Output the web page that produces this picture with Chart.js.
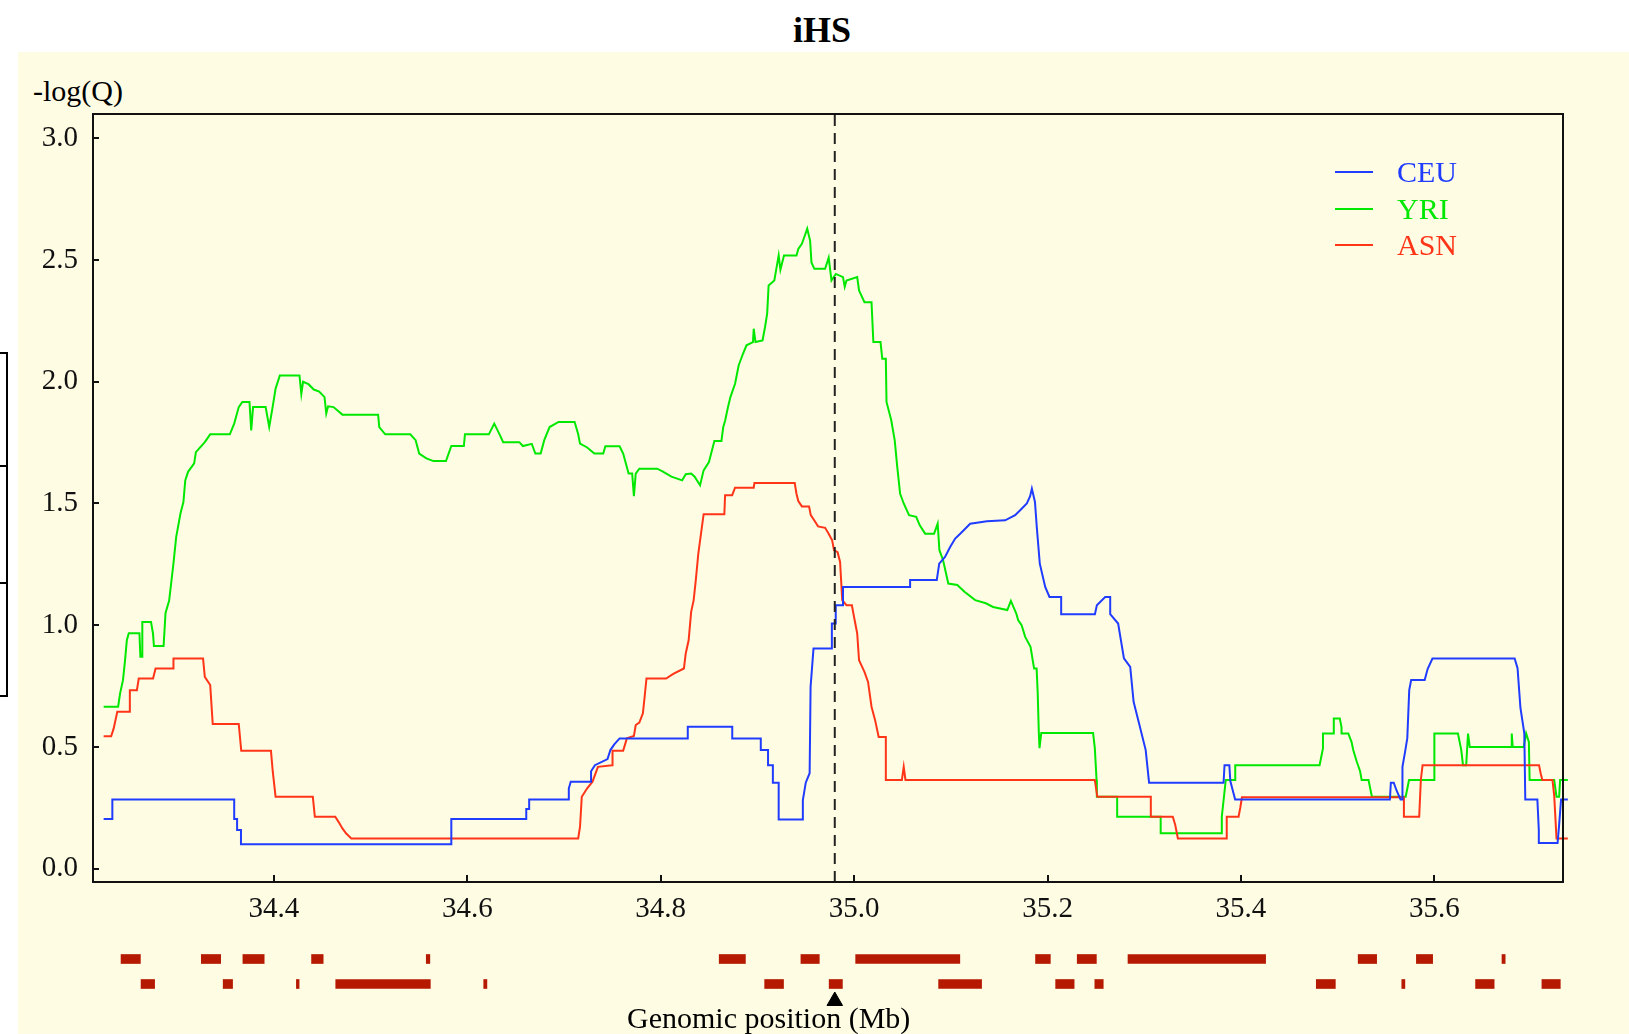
<!DOCTYPE html>
<html>
<head>
<meta charset="utf-8">
<title>iHS</title>
<script src="https://cdn.jsdelivr.net/npm/chart.js@4.4.1/dist/chart.umd.min.js"></script>
<style>
  body { margin: 0; width: 1629px; height: 1034px; position: relative; overflow: hidden; background: #fff;
         font-family: 'Liberation Serif', 'DejaVu Serif', serif; }
  #panel { position: absolute; left: 18px; top: 52px; width: 1611px; height: 982px; background: #fffce4; }
  #stub { position: absolute; left: -12px; top: 352px; width: 16px; height: 341px; border: 2px solid #000; }
  .stubTick { position: absolute; left: 0; width: 6px; height: 2px; background: #000; }
  #title { position: absolute; left: 0; width: 1644px; top: 10px; line-height: 40px; text-align: center;
           font-weight: bold; font-size: 36px; color: #000; }
  #ylabel { position: absolute; left: 33px; top: 74px; font-size: 30px; line-height: 34px; color: #000; }
  #xlabel { position: absolute; left: 627px; top: 1001px; font-size: 30px; line-height: 34px; color: #000; }
  #legend { position: absolute; left: 1335px; top: 154px; font-size: 30px; }
  .legRow { height: 36.5px; display: flex; align-items: center; }
  .legLine { width: 38px; height: 2px; margin-right: 24px; }
  canvas { position: absolute; left: 0; }
</style>
</head>
<body>
<div id="panel"></div>
<div id="stub"></div>
<div class="stubTick" style="top:465px"></div>
<div class="stubTick" style="top:582px"></div>
<div id="title">iHS</div>
<div id="ylabel">-log(Q)</div>
<canvas id="plot" width="1629" height="935" style="top:0"></canvas>
<canvas id="genes" width="1629" height="99" style="top:935px"></canvas>
<div id="xlabel">Genomic position (Mb)</div>
<div id="legend"></div>

<script>
// iHS scores, -log(Q), along the genomic window (Mb)
const ceu = [
  [34.224,0.204],[34.233,0.204],[34.233,0.284],[34.359,0.284],[34.359,0.204],[34.362,0.204],[34.362,0.159],
  [34.366,0.159],[34.366,0.100],[34.5835,0.100],[34.5835,0.204],[34.661,0.204],[34.661,0.245],[34.664,0.245],
  [34.664,0.284],[34.705,0.284],[34.705,0.330],[34.707,0.357],[34.728,0.357],[34.728,0.400],[34.732,0.425],
  [34.745,0.450],[34.748,0.487],[34.752,0.510],[34.7575,0.535],[34.828,0.535],[34.828,0.583],[34.874,0.583],
  [34.874,0.535],[34.9035,0.535],[34.9035,0.487],[34.911,0.487],[34.911,0.425],[34.916,0.425],[34.916,0.353],
  [34.922,0.353],[34.922,0.202],[34.947,0.202],[34.947,0.282],[34.950,0.353],[34.954,0.392],[34.955,0.747],
  [34.958,0.904],[34.977,0.904],[34.977,1.007],[34.981,1.007],[34.981,1.082],[34.9885,1.082],[34.9885,1.157],
  [35.0579,1.157],[35.0579,1.186],[35.0855,1.186],[35.088,1.253],[35.094,1.280],[35.0993,1.321],[35.1045,1.356],
  [35.1097,1.376],[35.120,1.417],[35.1373,1.427],[35.1562,1.431],[35.1665,1.452],[35.1717,1.472],[35.1786,1.500],
  [35.182,1.530],[35.1838,1.561],[35.187,1.506],[35.189,1.397],[35.192,1.253],[35.1976,1.157],[35.202,1.116],
  [35.2141,1.116],[35.2141,1.045],[35.249,1.045],[35.251,1.082],[35.2596,1.116],[35.2648,1.116],[35.2648,1.045],
  [35.273,1.007],[35.279,0.864],[35.2855,0.829],[35.289,0.685],[35.2946,0.597],[35.3015,0.487],[35.305,0.353],
  [35.382,0.353],[35.383,0.425],[35.388,0.425],[35.389,0.360],[35.394,0.284],[35.554,0.284],[35.555,0.353],
  [35.558,0.353],[35.561,0.320],[35.565,0.284],[35.567,0.284],[35.567,0.418],[35.570,0.487],[35.572,0.536],
  [35.574,0.733],[35.576,0.775],[35.590,0.775],[35.593,0.820],[35.598,0.863],[35.683,0.863],[35.686,0.823],
  [35.689,0.660],[35.693,0.556],[35.694,0.284],[35.7065,0.284],[35.708,0.158],[35.708,0.105],[35.7274,0.105],
  [35.729,0.180],[35.731,0.284],[35.738,0.284]
];

const yri = [
  [34.224,0.665],[34.239,0.665],[34.241,0.720],[34.244,0.774],[34.246,0.850],[34.248,0.938],[34.250,0.967],
  [34.261,0.967],[34.262,0.870],[34.264,0.870],[34.264,1.013],[34.273,1.013],[34.275,0.967],[34.276,0.914],
  [34.286,0.914],[34.288,1.050],[34.2917,1.100],[34.2962,1.254],[34.299,1.362],[34.3035,1.460],[34.3065,1.506],
  [34.3084,1.595],[34.3113,1.630],[34.3176,1.665],[34.3194,1.711],[34.3286,1.752],[34.3342,1.784],[34.3545,1.784],
  [34.359,1.828],[34.3637,1.896],[34.3674,1.917],[34.3748,1.917],[34.3766,1.800],[34.3785,1.896],[34.3915,1.896],
  [34.3952,1.814],[34.3989,1.900],[34.4018,1.972],[34.4062,2.026],[34.4265,2.026],[34.4284,1.950],[34.4302,2.000],
  [34.4358,1.990],[34.4413,1.968],[34.4469,1.960],[34.4524,1.937],[34.4542,1.870],[34.4561,1.899],[34.4617,1.896],
  [34.4709,1.865],[34.5078,1.865],[34.509,1.814],[34.5152,1.784],[34.5411,1.784],[34.5466,1.760],[34.5503,1.705],
  [34.5577,1.685],[34.5651,1.674],[34.578,1.674],[34.5835,1.736],[34.5965,1.736],[34.5976,1.784],[34.6223,1.784],
  [34.6279,1.828],[34.6334,1.784],[34.6371,1.752],[34.6538,1.752],[34.6575,1.736],[34.6667,1.745],[34.6704,1.705],
  [34.6759,1.705],[34.6796,1.760],[34.6851,1.814],[34.6944,1.835],[34.711,1.835],[34.7147,1.784],[34.7166,1.746],
  [34.724,1.730],[34.7314,1.705],[34.7406,1.705],[34.7428,1.735],[34.7575,1.735],[34.7612,1.705],[34.765,1.650],
  [34.7668,1.623],[34.7705,1.623],[34.7723,1.530],[34.7742,1.623],[34.7779,1.643],[34.7963,1.643],[34.8019,1.632],
  [34.8111,1.610],[34.8222,1.595],[34.8259,1.620],[34.8315,1.623],[34.8351,1.610],[34.8407,1.575],[34.8444,1.636],
  [34.8499,1.670],[34.8555,1.757],[34.8628,1.757],[34.8647,1.814],[34.8666,1.840],[34.8696,1.896],[34.8721,1.937],
  [34.8769,1.992],[34.8806,2.067],[34.8851,2.115],[34.8887,2.150],[34.8954,2.163],[34.8962,2.218],[34.898,2.163],
  [34.9053,2.170],[34.9079,2.225],[34.9101,2.280],[34.9116,2.396],[34.9175,2.416],[34.922,2.519],[34.9238,2.460],
  [34.9275,2.519],[34.9404,2.519],[34.9423,2.546],[34.946,2.567],[34.9497,2.608],[34.9515,2.629],[34.9545,2.580],
  [34.9559,2.490],[34.9589,2.464],[34.970,2.464],[34.9737,2.510],[34.9766,2.416],[34.9811,2.443],[34.9885,2.430],
  [34.9903,2.390],[34.9921,2.416],[35.0032,2.430],[35.0051,2.375],[35.0107,2.327],[35.018,2.327],[35.0199,2.163],
  [35.0273,2.163],[35.0291,2.095],[35.0328,2.095],[35.0335,1.917],[35.0384,1.842],[35.042,1.759],[35.0446,1.650],
  [35.0476,1.540],[35.0513,1.500],[35.0568,1.452],[35.0642,1.445],[35.0679,1.410],[35.0734,1.376],[35.0827,1.376],
  [35.0864,1.417],[35.0882,1.308],[35.092,1.267],[35.0974,1.171],[35.1067,1.165],[35.1141,1.137],[35.1252,1.103],
  [35.1362,1.090],[35.1437,1.075],[35.1584,1.062],[35.1621,1.100],[35.1677,1.048],[35.1696,1.021],[35.1732,1.000],
  [35.1769,0.952],[35.1824,0.911],[35.1861,0.822],[35.1887,0.822],[35.1898,0.726],[35.191,0.557],[35.1917,0.495],
  [35.1935,0.557],[35.2471,0.557],[35.2489,0.495],[35.2507,0.364],[35.251,0.295],[35.272,0.295],[35.272,0.213],
  [35.317,0.213],[35.317,0.145],[35.3802,0.145],[35.3802,0.213],[35.3843,0.364],[35.3941,0.364],[35.3941,0.425],
  [35.4813,0.425],[35.4848,0.494],[35.4848,0.555],[35.496,0.555],[35.496,0.617],[35.5022,0.617],[35.504,0.580],
  [35.504,0.555],[35.511,0.555],[35.5144,0.520],[35.5161,0.487],[35.5197,0.440],[35.5232,0.400],[35.5248,0.364],
  [35.5319,0.364],[35.5354,0.295],[35.5703,0.295],[35.5738,0.364],[35.600,0.364],[35.600,0.555],[35.6244,0.555],
  [35.6278,0.487],[35.6296,0.425],[35.6329,0.425],[35.6348,0.555],[35.6366,0.500],[35.6795,0.500],[35.680,0.555],
  [35.681,0.500],[35.6924,0.500],[35.6949,0.555],[35.6977,0.520],[35.6985,0.364],[35.7239,0.364],[35.7263,0.295],
  [35.729,0.295],[35.730,0.364],[35.738,0.364]
];

const asn = [
  [34.224,0.544],[34.2318,0.544],[34.2344,0.576],[34.2381,0.644],[34.2504,0.644],[34.2511,0.733],[34.2584,0.733],
  [34.2603,0.781],[34.2751,0.781],[34.2777,0.822],[34.2962,0.822],[34.2962,0.863],[34.3268,0.863],[34.3286,0.788],
  [34.3342,0.754],[34.3368,0.594],[34.3637,0.594],[34.3663,0.484],[34.397,0.484],[34.3989,0.398],[34.4018,0.295],
  [34.4403,0.295],[34.4424,0.213],[34.4635,0.213],[34.4672,0.190],[34.4709,0.165],[34.4746,0.145],[34.4801,0.124],
  [34.7147,0.124],[34.7166,0.172],[34.7184,0.295],[34.724,0.330],[34.7295,0.357],[34.7351,0.418],[34.7498,0.425],
  [34.7502,0.484],[34.7612,0.484],[34.765,0.535],[34.7723,0.545],[34.7742,0.590],[34.7779,0.600],[34.7816,0.638],
  [34.7834,0.706],[34.7853,0.781],[34.8056,0.781],[34.813,0.800],[34.824,0.822],[34.8259,0.884],[34.8289,0.938],
  [34.8315,1.055],[34.8341,1.103],[34.8363,1.185],[34.8389,1.294],[34.8444,1.456],[34.8658,1.456],[34.8666,1.534],
  [34.8739,1.534],[34.8769,1.565],[34.8962,1.565],[34.8969,1.584],[34.9386,1.584],[34.9404,1.540],[34.9423,1.510],
  [34.946,1.488],[34.9534,1.488],[34.9552,1.452],[34.9589,1.430],[34.9627,1.406],[34.970,1.400],[34.9737,1.376],
  [34.9773,1.349],[34.9792,1.308],[34.9829,1.300],[34.9855,1.260],[34.9877,1.103],[34.9921,1.082],[34.9977,1.082],
  [34.9996,1.041],[35.0032,0.966],[35.0051,0.856],[35.0107,0.808],[35.0144,0.767],[35.018,0.665],[35.0217,0.610],
  [35.0254,0.541],[35.0328,0.541],[35.0328,0.364],[35.0494,0.364],[35.0513,0.418],[35.0531,0.364],[35.2489,0.364],
  [35.2515,0.295],[35.3068,0.295],[35.3068,0.213],[35.3295,0.213],[35.332,0.180],[35.3348,0.124],[35.3853,0.124],
  [35.3853,0.213],[35.3975,0.213],[35.3993,0.250],[35.401,0.293],[35.5685,0.293],[35.5685,0.213],[35.5843,0.213],
  [35.586,0.364],[35.5878,0.425],[35.7082,0.425],[35.710,0.390],[35.7117,0.364],[35.7221,0.364],[35.7239,0.300],
  [35.7263,0.124],[35.738,0.124]
];

const seriesNames = ['CEU', 'YRI', 'ASN'];
const seriesColors = ['#1f3cff', '#00e800', '#ff3518'];

// gene spans (Mb) on the two annotation rows
const geneRow1 = [
  [34.242,34.262],[34.325,34.345],[34.368,34.390],[34.439,34.451],[34.5576,34.5613],[34.8605,34.8876],
  [34.945,34.964],[35.0016,35.1093],[35.1876,35.2029],[35.2307,35.2505],[35.2832,35.4255],[35.5212,35.5403],
  [35.5814,35.5982],[35.6699,35.6732]
];
const geneRow2 = [
  [34.2627,34.2767],[34.3476,34.3573],[34.4233,34.4261],[34.464,34.5618],[34.617,34.6203],[34.9075,34.927],
  [34.9742,34.9879],[35.0874,35.1318],[35.2084,35.2275],[35.2489,35.2576],[35.4779,35.4976],[35.5663,35.5695],
  [35.6426,35.6618],[35.7112,35.7302]
];

const focusPos = 34.98;
const xTickValues = [34.4, 34.6, 34.8, 35.0, 35.2, 35.4, 35.6];
const yTickValues = [0, 0.5, 1.0, 1.5, 2.0, 2.5, 3.0];
const xMin = 34.213, xMax = 35.733;
const yMin = -0.055, yMax = 3.1;

const serif = "'Liberation Serif', 'DejaVu Serif', serif";
const toPoints = arr => arr.map(([x, y]) => ({ x, y }));

// box around the plot area plus inward tick marks
const framePlugin = {
  id: 'frame',
  afterDraw(chart) {
    const { ctx, chartArea: a, scales: { x, y } } = chart;
    ctx.save();
    ctx.strokeStyle = '#111';
    ctx.lineWidth = 2;
    ctx.strokeRect(a.left, a.top, a.right - a.left, a.bottom - a.top);
    ctx.beginPath();
    x.ticks.forEach(t => {
      const px = Math.round(x.getPixelForValue(t.value));
      ctx.moveTo(px, a.bottom);
      ctx.lineTo(px, a.bottom - 7);
    });
    y.ticks.forEach(t => {
      const py = Math.round(y.getPixelForValue(t.value));
      ctx.moveTo(a.left, py);
      ctx.lineTo(a.left + 6, py);
    });
    ctx.stroke();
    ctx.restore();
  }
};

const lineSets = [ceu, yri, asn].map((arr, i) => ({
  label: seriesNames[i],
  data: toPoints(arr),
  borderColor: seriesColors[i],
  borderWidth: 2,
  pointRadius: 0,
  tension: 0,
  fill: false,
  order: [1, 3, 2][i],
  clip: { left: 0, top: 0, right: 8, bottom: 0 }
}));

new Chart(document.getElementById('plot'), {
  type: 'line',
  data: {
    datasets: [
      ...lineSets,
      {
        label: 'focus',
        data: [{ x: focusPos, y: yMin }, { x: focusPos, y: yMax }],
        borderColor: '#222',
        borderWidth: 2,
        borderDash: [11, 7],
        pointRadius: 0,
        order: 0
      }
    ]
  },
  options: {
    responsive: false,
    animation: false,
    events: [],
    layout: { autoPadding: false, padding: { top: 114, right: 66, left: 0, bottom: 0 } },
    plugins: { legend: { display: false }, tooltip: { enabled: false } },
    scales: {
      x: {
        type: 'linear', min: xMin, max: xMax,
        afterFit: s => { s.height = 53; },
        afterBuildTicks: s => { s.ticks = xTickValues.map(v => ({ value: v })); },
        grid: { display: false, drawTicks: false },
        border: { display: false },
        ticks: { font: { family: serif, size: 29 }, color: '#111', padding: 10, maxRotation: 0,
                 autoSkip: false, callback: v => Number(v).toFixed(1) }
      },
      y: {
        type: 'linear', min: yMin, max: yMax,
        afterFit: s => { s.width = 93; },
        afterBuildTicks: s => { s.ticks = yTickValues.map(v => ({ value: v })); },
        grid: { display: false, drawTicks: false },
        border: { display: false },
        ticks: { font: { family: serif, size: 29 }, color: '#111', padding: 15,
                 autoSkip: false, callback: v => Number(v).toFixed(1) }
      }
    }
  },
  plugins: [framePlugin]
});

// gene annotation track under the axis
const geneColor = '#b51a00';
new Chart(document.getElementById('genes'), {
  type: 'bar',
  data: {
    datasets: [
      { type: 'bar', indexAxis: 'y', data: geneRow1.map(g => ({ x: g, y: 1 })), backgroundColor: geneColor,
        barThickness: 9, grouped: false, borderWidth: 0 },
      { type: 'bar', indexAxis: 'y', data: geneRow2.map(g => ({ x: g, y: 2 })), backgroundColor: geneColor,
        barThickness: 9, grouped: false, borderWidth: 0 },
      { type: 'scatter', data: [{ x: focusPos, y: 2.68 }], pointStyle: 'triangle', pointRadius: 9,
        backgroundColor: '#000', borderColor: '#000', borderWidth: 1 }
    ]
  },
  options: {
    responsive: false,
    animation: false,
    events: [],
    indexAxis: 'y',
    layout: { autoPadding: false, padding: { top: 0, right: 66, left: 93, bottom: 0 } },
    plugins: { legend: { display: false }, tooltip: { enabled: false } },
    scales: {
      x: { type: 'linear', min: xMin, max: xMax, display: false, offset: false },
      y: { type: 'linear', min: 0.04, max: 4.0, reverse: true, display: false, offset: false }
    }
  }
});

// legend: short line sample with the label in the series colour
const legend = document.getElementById('legend');
seriesNames.forEach((name, i) => {
  const row = document.createElement('div');
  row.className = 'legRow';
  row.innerHTML = `<span class="legLine" style="background:${seriesColors[i]}"></span>` +
                  `<span style="color:${seriesColors[i]}">${name}</span>`;
  legend.appendChild(row);
});
</script>
</body>
</html>
